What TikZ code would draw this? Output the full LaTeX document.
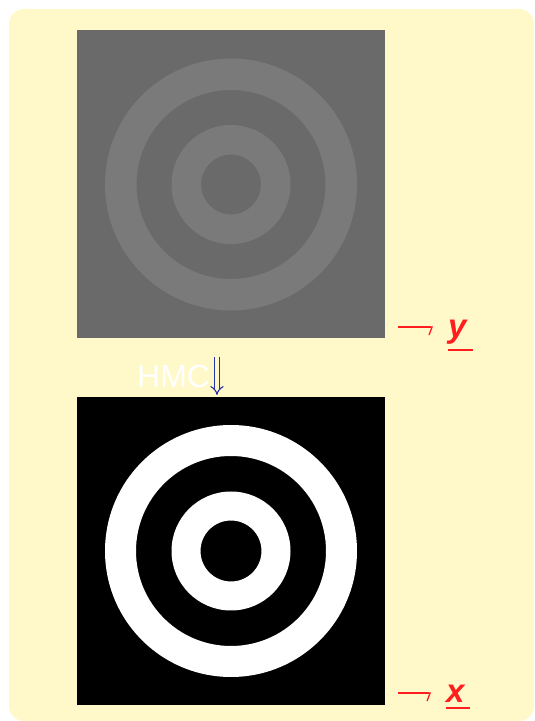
\documentclass[tikz,border=0pt]{standalone}
\usepackage{fontspec}
\setmainfont{Liberation Sans}
\usetikzlibrary{arrows.meta, positioning, calc}
\definecolor{panelyellow}{RGB}{255,248,200}
\definecolor{noisegray}{RGB}{106,106,106}
\definecolor{ringgray}{RGB}{122,122,122}
\definecolor{labelred}{RGB}{255,30,30}
\definecolor{hmcblue}{RGB}{40,50,170}

\begin{document}
\begin{tikzpicture}[x=1pt, y=1pt,
    picture/.style={minimum size=308pt, inner sep=0pt, outer sep=0pt, fill=#1},
    varlabel/.style={text=labelred, font=\fontsize{33}{38}\selectfont\bfseries\itshape,
                     inner sep=0pt, anchor=base west},
    harpoon/.style={draw=labelred, line width=1.3pt, shorten >=15pt,
                    -{Straight Barb[right, length=3pt, width=16pt]}},
    hmcarrow/.style={draw=hmcblue, line width=1.1pt, double=panelyellow,
                     double distance=3.5pt, shorten >=2pt,
                     -{Implies[length=7pt, width=20pt]}}
]
    \useasboundingbox (0,0) rectangle (535,721);
    \fill[panelyellow, rounded corners=15pt] (9,0) rectangle (534,712);

    % noisy observation y
    \node[picture=noisegray] (noisy) at (231,536.5) {};
    \fill[ringgray, even odd rule] (noisy.center) circle[radius=126pt] circle[radius=94.5pt]
                                   circle[radius=59.5pt] circle[radius=30pt];

    % restored image x
    \node[picture=black] (clean) at (231,170) {};
    \fill[white, even odd rule] (clean.center) circle[radius=126pt] circle[radius=95pt]
                                circle[radius=59.5pt] circle[radius=30.5pt];

    \node[text=white, font=\fontsize{32}{38}\selectfont, inner sep=0pt, anchor=base west]
        (hmc) at (137,333) {HMC};
    \coordinate (hmctop) at (217,364);
    \draw[hmcarrow] (hmctop) -- (clean.north -| hmctop);

    % labels
    \node[varlabel] (ylbl) at (448,383) {y};
    \node[varlabel] (xlbl) at (446,18) {x};
    \draw[labelred, line width=2pt] ($(ylbl.south west)+(0,-5)$) -- ($(ylbl.south east)+(6,-5)$);
    \draw[labelred, line width=2pt] ($(xlbl.south west)+(0,-5)$) -- ($(xlbl.south east)+(5,-5)$);
    \coordinate (yfrom) at (398,394);
    \coordinate (xfrom) at (398,28);
    \draw[harpoon] (yfrom) -- (yfrom -| ylbl.west);
    \draw[harpoon] (xfrom) -- (xfrom -| xlbl.west);
\end{tikzpicture}
\end{document}
